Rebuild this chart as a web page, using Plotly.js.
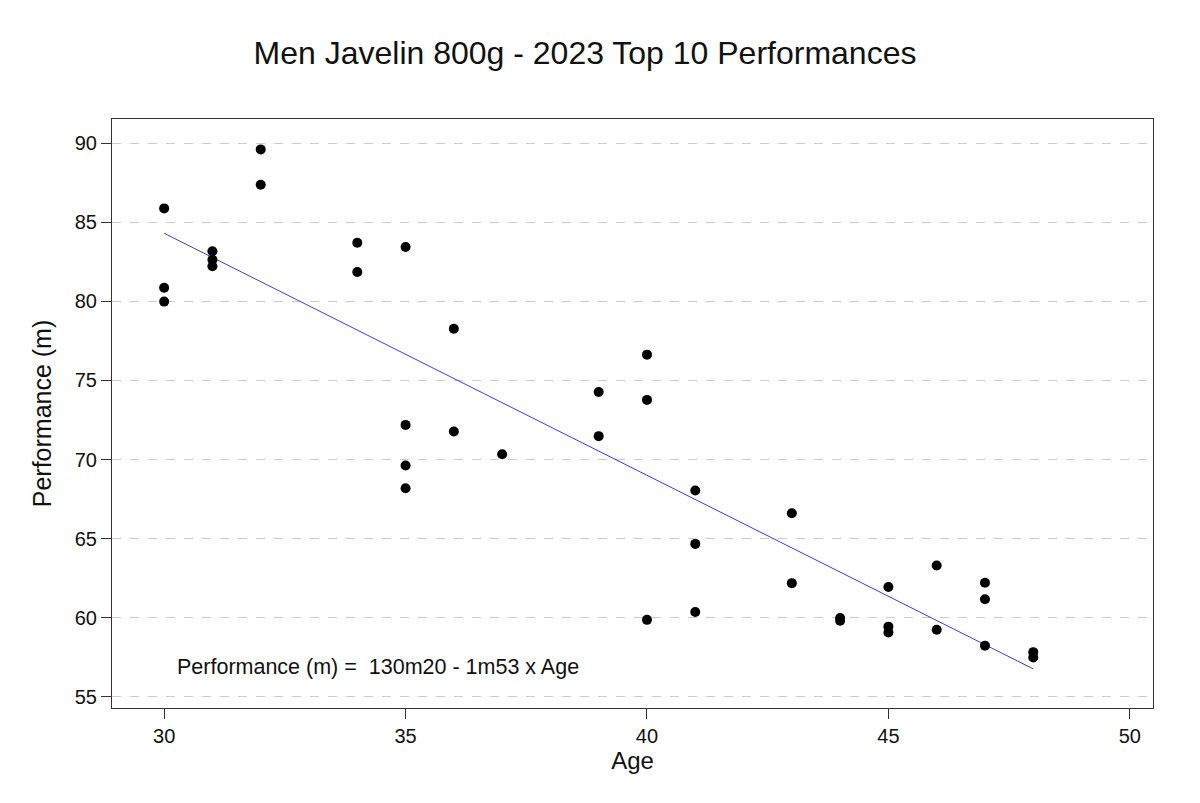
<!DOCTYPE html>
<html>
<head>
<meta charset="utf-8">
<script src="https://cdn.plot.ly/plotly-3.0.1.min.js"></script>
<style>html,body{margin:0;padding:0;background:#fff;}#chart{width:1200px;height:803px;}</style>
</head>
<body>
<div id="chart"></div>
<script>
const ages = [30,30,30, 31,31,31, 32,32, 34,34, 35,35,35,35, 36,36, 37, 39,39, 40,40,40, 41,41,41, 43,43, 44,44, 45,45,45, 46,46, 47,47,47, 48,48];
const performances = [85.87,80.86,79.98, 83.16,82.63,82.21, 89.6,87.37, 83.70,81.85, 83.43,72.19,69.62,68.19, 78.27,71.77, 70.33, 74.27,71.48, 76.63,73.77,59.87, 68.04,64.67,60.37, 66.61,62.19, 59.98,59.82, 61.95,59.44,59.07, 63.30,59.24, 62.22,61.17,58.24, 57.83,57.49];
const fitAges = [30, 48];
const fitPerf = [84.3, 56.77];
const xTicks = [30,35,40,45,50];
const yTicks = [55,60,65,70,75,80,85,90];
const titleText = 'Men Javelin 800g - 2023 Top 10 Performances';
const equationText = 'Performance (m) =  130m20 - 1m53 x Age';

const font = 'Liberation Sans, Arial, sans-serif';
const traces = [
  {x: fitAges, y: fitPerf, type: 'scatter', mode: 'lines', line: {color: '#3b3bff', width: 1}, hoverinfo: 'skip'},
  {x: ages, y: performances, type: 'scatter', mode: 'markers', marker: {color: '#000', size: 10}}
];
const layout = {
  width: 1200, height: 803,
  margin: {l: 112, r: 47, t: 119, b: 95},
  paper_bgcolor: '#fff', plot_bgcolor: '#fff',
  showlegend: false,
  font: {family: font, color: '#111'},
  title: {text: titleText, x: 0.4875, xref: 'container', xanchor: 'center', y: 0.934, yref: 'container', yanchor: 'middle', font: {size: 32, color: '#111', family: font}},
  xaxis: {
    range: [28.92, 50.48], tickvals: xTicks, ticktext: xTicks.map(String),
    showgrid: false, zeroline: false, showline: true, mirror: true, linecolor: '#333', linewidth: 1,
    ticks: 'outside', ticklen: 10, tickcolor: '#333', tickfont: {size: 20, color: '#111'},
    title: {text: 'Age', font: {size: 24, color: '#111'}, standoff: 6}
  },
  yaxis: {
    range: [54.3, 91.52], tickvals: yTicks, ticktext: yTicks.map(String),
    showgrid: true, gridcolor: '#cccccc', griddash: 'dash', gridwidth: 1,
    zeroline: false, showline: true, mirror: true, linecolor: '#333', linewidth: 1,
    ticks: 'outside', ticklen: 10, tickcolor: '#333', tickfont: {size: 20, color: '#111'},
    title: {text: 'Performance (m)', font: {size: 25, color: '#111'}, standoff: 16}
  },
  annotations: [{x: 30.23, y: 56.9, xref: 'x', yref: 'y', text: equationText, showarrow: false, xanchor: 'left', yanchor: 'middle', font: {size: 21.5, color: '#111', family: font}}]
};
Plotly.newPlot('chart', traces, layout, {displayModeBar: false, staticPlot: true});
</script>
</body>
</html>
